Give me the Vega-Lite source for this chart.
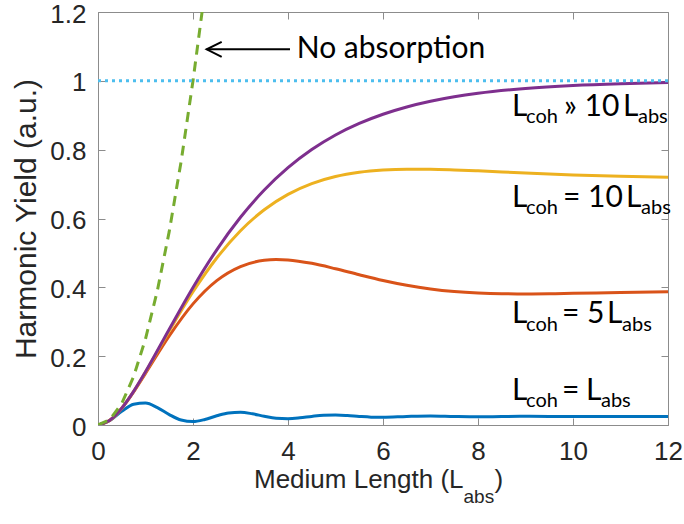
{
  "$schema": "https://vega.github.io/schema/vega-lite/v6.json",
  "width": 570,
  "height": 413,
  "autosize": {"type": "none"},
  "padding": {"left": 98, "top": 12, "right": 16, "bottom": 99},
  "background": "white",
  "config": {
    "view": {"stroke": "#8c8c8c", "strokeWidth": 1},
    "axis": {
      "grid": false,
      "domainColor": "#8c8c8c",
      "tickColor": "#8c8c8c",
      "labelColor": "#262626",
      "labelFont": "Liberation Sans",
      "labelFontSize": 26,
      "tickSize": -7,
      "labelFlush": false,
      "labelOverlap": false
    }
  },
  "datasets": {
    "curves": [
      {"x": 0, "y": 0, "s": "Lcoh = Labs"},
      {"x": 0.25, "y": 0.0131, "s": "Lcoh = Labs"},
      {"x": 0.5, "y": 0.0397, "s": "Lcoh = Labs"},
      {"x": 0.75, "y": 0.0604, "s": "Lcoh = Labs"},
      {"x": 1, "y": 0.0638, "s": "Lcoh = Labs"},
      {"x": 1.25, "y": 0.0505, "s": "Lcoh = Labs"},
      {"x": 1.5, "y": 0.0302, "s": "Lcoh = Labs"},
      {"x": 1.75, "y": 0.0144, "s": "Lcoh = Labs"},
      {"x": 2, "y": 0.0099, "s": "Lcoh = Labs"},
      {"x": 2.25, "y": 0.016, "s": "Lcoh = Labs"},
      {"x": 2.5, "y": 0.0267, "s": "Lcoh = Labs"},
      {"x": 2.75, "y": 0.0351, "s": "Lcoh = Labs"},
      {"x": 3, "y": 0.037, "s": "Lcoh = Labs"},
      {"x": 3.25, "y": 0.0325, "s": "Lcoh = Labs"},
      {"x": 3.5, "y": 0.0255, "s": "Lcoh = Labs"},
      {"x": 3.75, "y": 0.0199, "s": "Lcoh = Labs"},
      {"x": 4, "y": 0.0185, "s": "Lcoh = Labs"},
      {"x": 4.25, "y": 0.0209, "s": "Lcoh = Labs"},
      {"x": 4.5, "y": 0.025, "s": "Lcoh = Labs"},
      {"x": 4.75, "y": 0.0282, "s": "Lcoh = Labs"},
      {"x": 5, "y": 0.0289, "s": "Lcoh = Labs"},
      {"x": 5.25, "y": 0.0274, "s": "Lcoh = Labs"},
      {"x": 5.5, "y": 0.0248, "s": "Lcoh = Labs"},
      {"x": 5.75, "y": 0.0228, "s": "Lcoh = Labs"},
      {"x": 6, "y": 0.0223, "s": "Lcoh = Labs"},
      {"x": 6.5, "y": 0.0247, "s": "Lcoh = Labs"},
      {"x": 7, "y": 0.0262, "s": "Lcoh = Labs"},
      {"x": 7.5, "y": 0.0247, "s": "Lcoh = Labs"},
      {"x": 8, "y": 0.0238, "s": "Lcoh = Labs"},
      {"x": 8.5, "y": 0.0247, "s": "Lcoh = Labs"},
      {"x": 9, "y": 0.0253, "s": "Lcoh = Labs"},
      {"x": 9.5, "y": 0.0247, "s": "Lcoh = Labs"},
      {"x": 10, "y": 0.0244, "s": "Lcoh = Labs"},
      {"x": 10.5, "y": 0.0247, "s": "Lcoh = Labs"},
      {"x": 11, "y": 0.0249, "s": "Lcoh = Labs"},
      {"x": 11.5, "y": 0.0247, "s": "Lcoh = Labs"},
      {"x": 12, "y": 0.0246, "s": "Lcoh = Labs"},

      {"x": 0, "y": 0, "s": "Lcoh = 5 Labs"},
      {"x": 0.25, "y": 0.0138, "s": "Lcoh = 5 Labs"},
      {"x": 0.5, "y": 0.0485, "s": "Lcoh = 5 Labs"},
      {"x": 0.75, "y": 0.096, "s": "Lcoh = 5 Labs"},
      {"x": 1, "y": 0.1499, "s": "Lcoh = 5 Labs"},
      {"x": 1.5, "y": 0.2589, "s": "Lcoh = 5 Labs"},
      {"x": 2, "y": 0.352, "s": "Lcoh = 5 Labs"},
      {"x": 2.5, "y": 0.4196, "s": "Lcoh = 5 Labs"},
      {"x": 3, "y": 0.4605, "s": "Lcoh = 5 Labs"},
      {"x": 3.5, "y": 0.4786, "s": "Lcoh = 5 Labs"},
      {"x": 3.75, "y": 0.4809, "s": "Lcoh = 5 Labs"},
      {"x": 4, "y": 0.4797, "s": "Lcoh = 5 Labs"},
      {"x": 4.5, "y": 0.4698, "s": "Lcoh = 5 Labs"},
      {"x": 5, "y": 0.454, "s": "Lcoh = 5 Labs"},
      {"x": 5.5, "y": 0.4365, "s": "Lcoh = 5 Labs"},
      {"x": 6, "y": 0.4199, "s": "Lcoh = 5 Labs"},
      {"x": 6.5, "y": 0.406, "s": "Lcoh = 5 Labs"},
      {"x": 7, "y": 0.3953, "s": "Lcoh = 5 Labs"},
      {"x": 7.5, "y": 0.3879, "s": "Lcoh = 5 Labs"},
      {"x": 8, "y": 0.3835, "s": "Lcoh = 5 Labs"},
      {"x": 8.5, "y": 0.3813, "s": "Lcoh = 5 Labs"},
      {"x": 9, "y": 0.3808, "s": "Lcoh = 5 Labs"},
      {"x": 9.5, "y": 0.3814, "s": "Lcoh = 5 Labs"},
      {"x": 10, "y": 0.3825, "s": "Lcoh = 5 Labs"},
      {"x": 11, "y": 0.3852, "s": "Lcoh = 5 Labs"},
      {"x": 12, "y": 0.3871, "s": "Lcoh = 5 Labs"},

      {"x": 0, "y": 0, "s": "Lcoh = 10 Labs"},
      {"x": 0.25, "y": 0.0138, "s": "Lcoh = 10 Labs"},
      {"x": 0.5, "y": 0.0488, "s": "Lcoh = 10 Labs"},
      {"x": 0.75, "y": 0.0973, "s": "Lcoh = 10 Labs"},
      {"x": 1, "y": 0.1536, "s": "Lcoh = 10 Labs"},
      {"x": 1.5, "y": 0.2734, "s": "Lcoh = 10 Labs"},
      {"x": 2, "y": 0.3872, "s": "Lcoh = 10 Labs"},
      {"x": 2.5, "y": 0.4853, "s": "Lcoh = 10 Labs"},
      {"x": 3, "y": 0.5646, "s": "Lcoh = 10 Labs"},
      {"x": 3.5, "y": 0.6255, "s": "Lcoh = 10 Labs"},
      {"x": 4, "y": 0.6701, "s": "Lcoh = 10 Labs"},
      {"x": 4.5, "y": 0.7013, "s": "Lcoh = 10 Labs"},
      {"x": 5, "y": 0.7218, "s": "Lcoh = 10 Labs"},
      {"x": 5.5, "y": 0.7342, "s": "Lcoh = 10 Labs"},
      {"x": 6, "y": 0.7408, "s": "Lcoh = 10 Labs"},
      {"x": 6.5, "y": 0.7433, "s": "Lcoh = 10 Labs"},
      {"x": 7, "y": 0.7431, "s": "Lcoh = 10 Labs"},
      {"x": 7.5, "y": 0.7412, "s": "Lcoh = 10 Labs"},
      {"x": 8, "y": 0.7384, "s": "Lcoh = 10 Labs"},
      {"x": 9, "y": 0.7322, "s": "Lcoh = 10 Labs"},
      {"x": 10, "y": 0.7267, "s": "Lcoh = 10 Labs"},
      {"x": 11, "y": 0.7225, "s": "Lcoh = 10 Labs"},
      {"x": 12, "y": 0.7198, "s": "Lcoh = 10 Labs"},

      {"x": 0, "y": 0, "s": "Lcoh >> 10 Labs"},
      {"x": 0.25, "y": 0.0138, "s": "Lcoh >> 10 Labs"},
      {"x": 0.5, "y": 0.0489, "s": "Lcoh >> 10 Labs"},
      {"x": 0.75, "y": 0.0978, "s": "Lcoh >> 10 Labs"},
      {"x": 1, "y": 0.1548, "s": "Lcoh >> 10 Labs"},
      {"x": 1.5, "y": 0.2784, "s": "Lcoh >> 10 Labs"},
      {"x": 2, "y": 0.3996, "s": "Lcoh >> 10 Labs"},
      {"x": 2.5, "y": 0.5091, "s": "Lcoh >> 10 Labs"},
      {"x": 3, "y": 0.6035, "s": "Lcoh >> 10 Labs"},
      {"x": 3.5, "y": 0.6826, "s": "Lcoh >> 10 Labs"},
      {"x": 4, "y": 0.7476, "s": "Lcoh >> 10 Labs"},
      {"x": 4.5, "y": 0.8003, "s": "Lcoh >> 10 Labs"},
      {"x": 5, "y": 0.8426, "s": "Lcoh >> 10 Labs"},
      {"x": 5.5, "y": 0.8762, "s": "Lcoh >> 10 Labs"},
      {"x": 6, "y": 0.9029, "s": "Lcoh >> 10 Labs"},
      {"x": 6.5, "y": 0.924, "s": "Lcoh >> 10 Labs"},
      {"x": 7, "y": 0.9405, "s": "Lcoh >> 10 Labs"},
      {"x": 7.5, "y": 0.9535, "s": "Lcoh >> 10 Labs"},
      {"x": 8, "y": 0.9637, "s": "Lcoh >> 10 Labs"},
      {"x": 9, "y": 0.9779, "s": "Lcoh >> 10 Labs"},
      {"x": 10, "y": 0.9866, "s": "Lcoh >> 10 Labs"},
      {"x": 11, "y": 0.9918, "s": "Lcoh >> 10 Labs"},
      {"x": 12, "y": 0.995, "s": "Lcoh >> 10 Labs"}
    ],
    "noabs": [
      {"x": 0, "y": 0},
      {"x": 0.25, "y": 0.0156},
      {"x": 0.5, "y": 0.0625},
      {"x": 0.75, "y": 0.1406},
      {"x": 1, "y": 0.25},
      {"x": 1.25, "y": 0.3906},
      {"x": 1.5, "y": 0.5625},
      {"x": 1.75, "y": 0.7656},
      {"x": 2, "y": 1.0},
      {"x": 2.1909, "y": 1.2}
    ],
    "limit": [{"y": 1}],
    "arrow": [{"x": 2.288, "x2": 4.042, "y": 1.0916, "hx": 2.446}],
    "texts": [
      {"x": 4.183, "y": 1.0655, "text": "No absorption", "kind": "ann"},
      {"x": 8.716, "y": 0.8978, "text": "L", "kind": "ann"},
      {"x": 9.011, "y": 0.8766, "text": "coh", "kind": "annsub"},
      {"x": 9.811, "y": 0.8978, "text": "» 10", "kind": "ann"},
      {"x": 11.053, "y": 0.8978, "text": "L", "kind": "ann"},
      {"x": 11.368, "y": 0.8766, "text": "abs", "kind": "annsub"},
      {"x": 8.716, "y": 0.6343, "text": "L", "kind": "ann"},
      {"x": 9.011, "y": 0.6131, "text": "coh", "kind": "annsub"},
      {"x": 9.789, "y": 0.6343, "text": "= 10", "kind": "ann"},
      {"x": 11.116, "y": 0.6343, "text": "L", "kind": "ann"},
      {"x": 11.432, "y": 0.6131, "text": "abs", "kind": "annsub"},
      {"x": 8.716, "y": 0.2955, "text": "L", "kind": "ann"},
      {"x": 9.011, "y": 0.2743, "text": "coh", "kind": "annsub"},
      {"x": 9.768, "y": 0.2955, "text": "= 5", "kind": "ann"},
      {"x": 10.716, "y": 0.2955, "text": "L", "kind": "ann"},
      {"x": 11.032, "y": 0.2743, "text": "abs", "kind": "annsub"},
      {"x": 8.716, "y": 0.0726, "text": "L", "kind": "ann"},
      {"x": 9.011, "y": 0.0514, "text": "coh", "kind": "annsub"},
      {"x": 9.768, "y": 0.0726, "text": "=", "kind": "ann"},
      {"x": 10.274, "y": 0.0726, "text": "L", "kind": "ann"},
      {"x": 10.589, "y": 0.0514, "text": "abs", "kind": "annsub"},
      {"x": 3.284, "y": -0.183, "text": "Medium Length (L", "kind": "title"},
      {"x": 7.695, "y": -0.2266, "text": "abs", "kind": "titlesub"},
      {"x": 8.347, "y": -0.183, "text": ")", "kind": "title"}
    ]
  },
  "layer": [
    {
      "data": {"name": "curves"},
      "mark": {"type": "line", "strokeWidth": 3, "interpolate": "monotone", "clip": true},
      "encoding": {
        "x": {
          "field": "x", "type": "quantitative",
          "scale": {"domain": [0, 12], "nice": false, "zero": false},
          "axis": {"values": [0, 2, 4, 6, 8, 10, 12], "title": null, "labelPadding": 20, "format": "~g"}
        },
        "y": {
          "field": "y", "type": "quantitative",
          "scale": {"domain": [0, 1.2], "nice": false},
          "axis": {
            "values": [0, 0.2, 0.4, 0.6, 0.8, 1, 1.2],
            "format": "~g",
            "title": "Harmonic Yield (a.u.)",
            "labelPadding": 19,
            "labelOffset": 2,
            "titleFont": "Liberation Sans",
            "titleFontSize": 30,
            "titleFontWeight": "normal",
            "titleColor": "#262626",
            "titlePadding": 8
          }
        },
        "color": {
          "field": "s", "type": "nominal", "legend": null,
          "scale": {
            "domain": ["Lcoh = Labs", "Lcoh = 5 Labs", "Lcoh = 10 Labs", "Lcoh >> 10 Labs"],
            "range": ["#0072BD", "#D95319", "#EDB120", "#7E2F8E"]
          }
        }
      }
    },
    {
      "data": {"name": "noabs"},
      "mark": {"type": "line", "strokeWidth": 3, "color": "#77AC30", "strokeDash": [10, 7], "clip": true},
      "encoding": {
        "x": {
          "field": "x", "type": "quantitative",
          "axis": {"orient": "top", "values": [0, 2, 4, 6, 8, 10, 12], "labels": false, "title": null, "domain": false}
        },
        "y": {
          "field": "y", "type": "quantitative",
          "axis": {"orient": "right", "values": [0, 0.2, 0.4, 0.6, 0.8, 1, 1.2], "labels": false, "title": null, "domain": false}
        }
      }
    },
    {
      "data": {"name": "limit"},
      "mark": {"type": "rule", "strokeWidth": 3, "color": "#4DBEEE", "strokeDash": [3, 4]},
      "encoding": {
        "y": {"field": "y", "type": "quantitative", "axis": null}
      }
    },
    {
      "data": {"name": "arrow"},
      "mark": {"type": "rule", "strokeWidth": 2, "color": "black"},
      "encoding": {
        "x": {"field": "x", "type": "quantitative", "axis": null},
        "x2": {"field": "x2"},
        "y": {"field": "y", "type": "quantitative", "axis": null}
      }
    },
    {
      "data": {"name": "arrow"},
      "mark": {"type": "point", "shape": "M 1 -1 L -1 0 L 1 1", "filled": false, "stroke": "black", "strokeWidth": 2, "size": 225, "opacity": 1},
      "encoding": {
        "x": {"field": "hx", "type": "quantitative", "axis": null},
        "y": {"field": "y", "type": "quantitative", "axis": null}
      }
    },
    {
      "data": {"name": "texts"},
      "transform": [{"filter": "datum.kind === 'ann'"}],
      "mark": {"type": "text", "align": "left", "baseline": "alphabetic", "font": "Lato", "fontSize": 30, "color": "black"},
      "encoding": {
        "x": {"field": "x", "type": "quantitative", "axis": null},
        "y": {"field": "y", "type": "quantitative", "axis": null},
        "text": {"field": "text"}
      }
    },
    {
      "data": {"name": "texts"},
      "transform": [{"filter": "datum.kind === 'annsub'"}],
      "mark": {"type": "text", "align": "left", "baseline": "alphabetic", "font": "Lato", "fontSize": 20, "color": "black"},
      "encoding": {
        "x": {"field": "x", "type": "quantitative", "axis": null},
        "y": {"field": "y", "type": "quantitative", "axis": null},
        "text": {"field": "text"}
      }
    },
    {
      "data": {"name": "texts"},
      "transform": [{"filter": "datum.kind === 'title'"}],
      "mark": {"type": "text", "align": "left", "baseline": "alphabetic", "font": "Liberation Sans", "fontSize": 26, "color": "#262626"},
      "encoding": {
        "x": {"field": "x", "type": "quantitative", "axis": null},
        "y": {"field": "y", "type": "quantitative", "axis": null},
        "text": {"field": "text"}
      }
    },
    {
      "data": {"name": "texts"},
      "transform": [{"filter": "datum.kind === 'titlesub'"}],
      "mark": {"type": "text", "align": "left", "baseline": "alphabetic", "font": "Liberation Sans", "fontSize": 19, "color": "#262626"},
      "encoding": {
        "x": {"field": "x", "type": "quantitative", "axis": null},
        "y": {"field": "y", "type": "quantitative", "axis": null},
        "text": {"field": "text"}
      }
    }
  ],
  "resolve": {"axis": {"x": "independent", "y": "independent"}}
}
